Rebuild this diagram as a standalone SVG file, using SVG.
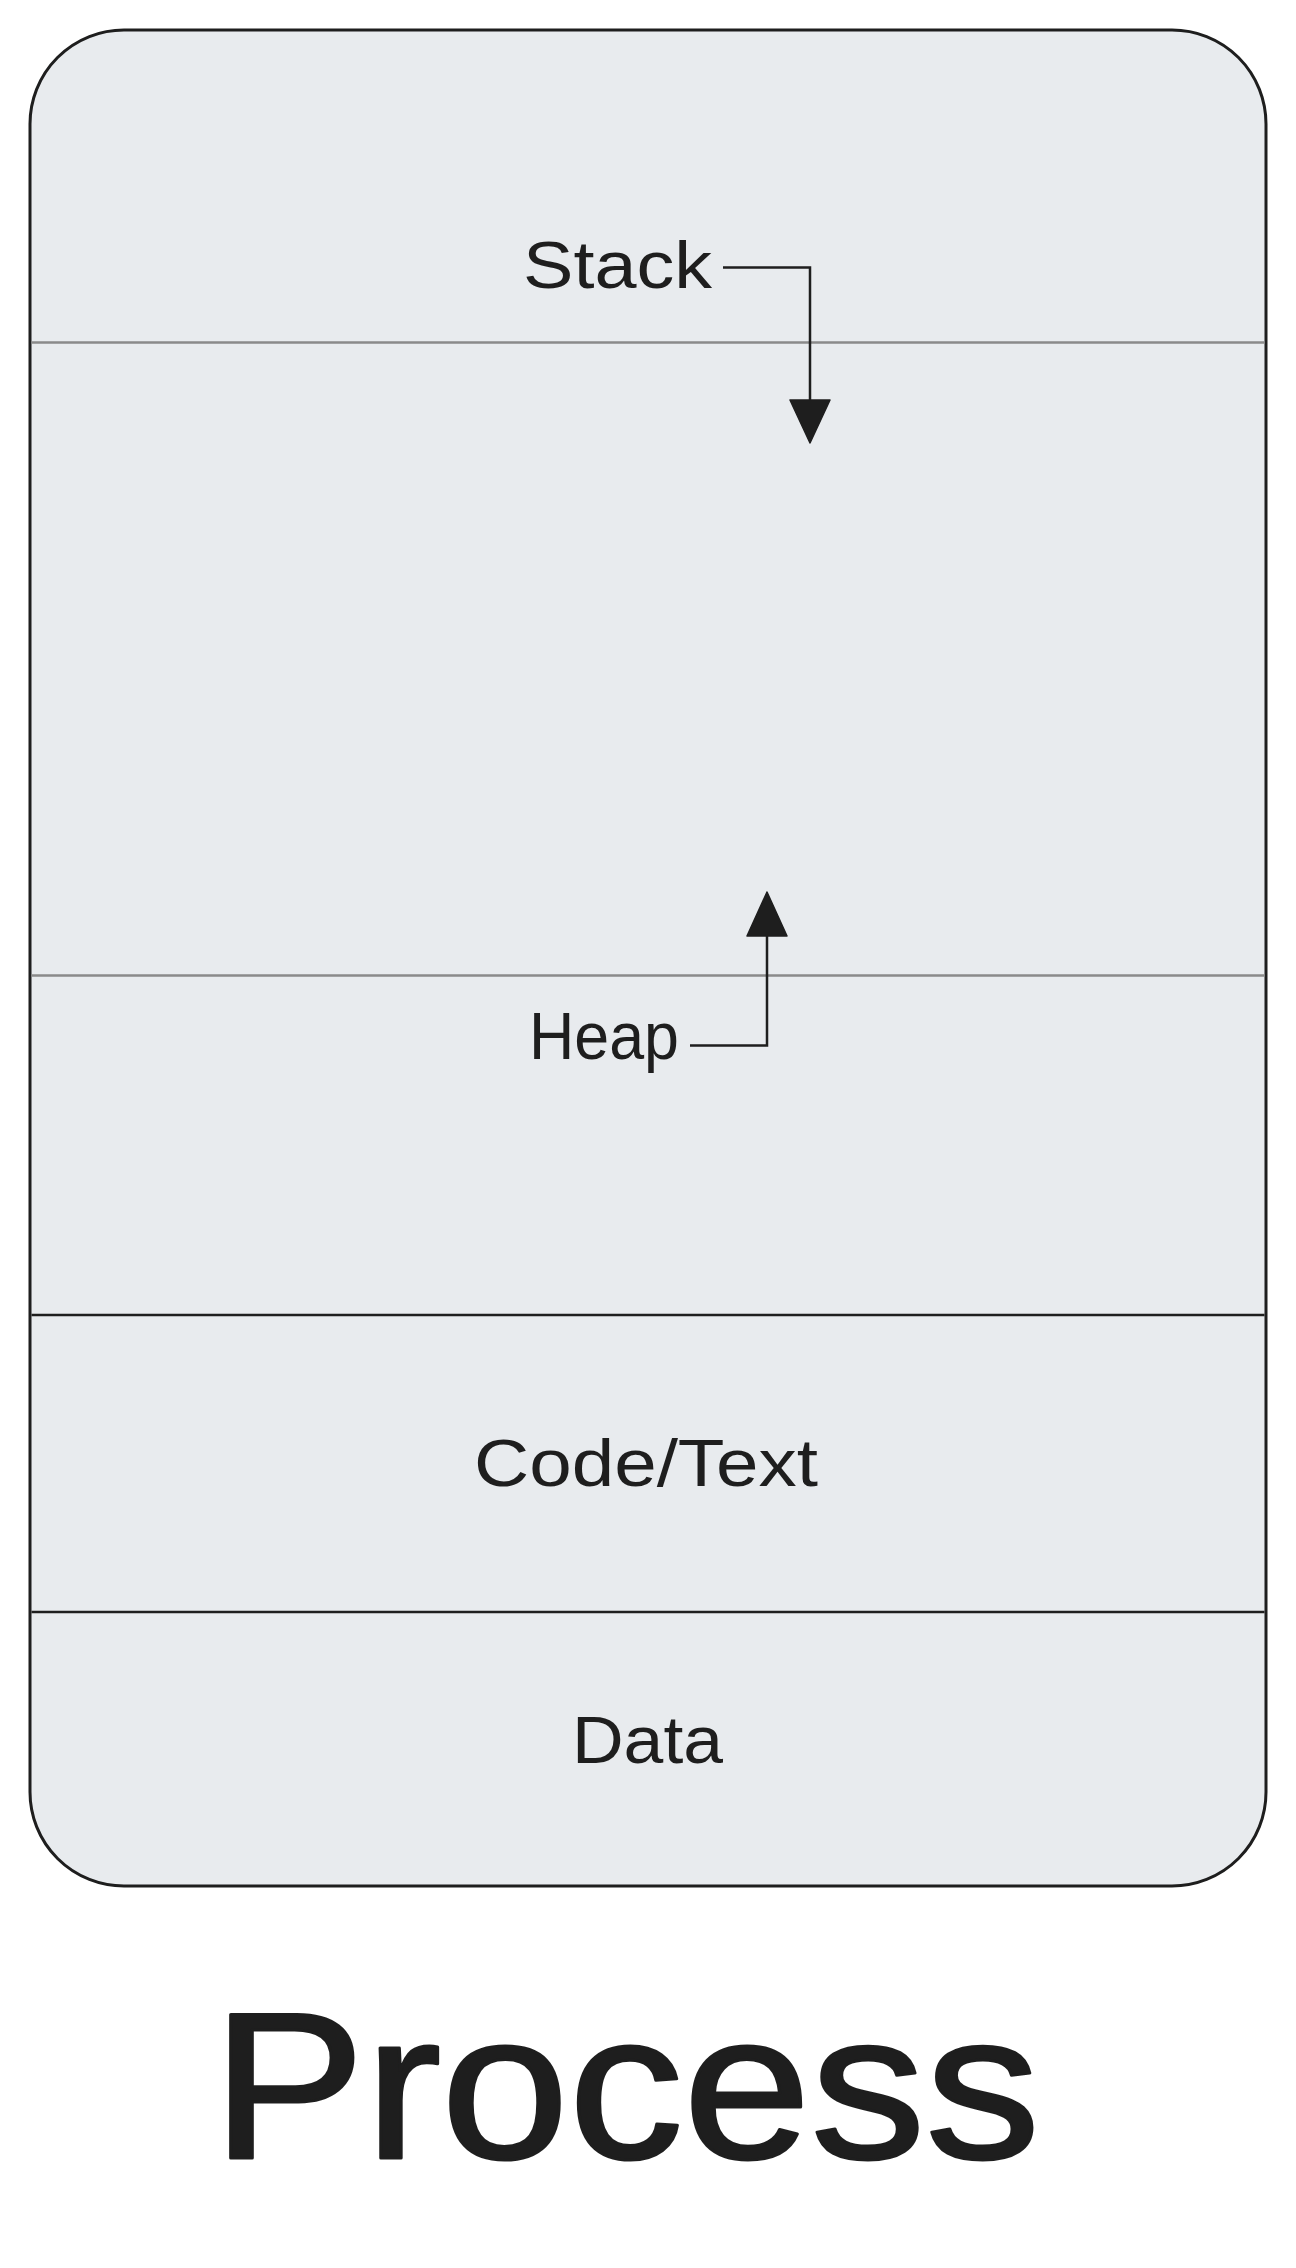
<svg xmlns="http://www.w3.org/2000/svg" width="1296" height="2268" viewBox="0 0 1296 2268">
  <style>
    .lbl { font-family: "Liberation Sans", Arial, sans-serif; font-size: 67px; fill: #1e1e1e; }
    .title { font-family: "Liberation Sans", Arial, sans-serif; font-size: 208px; fill: #1e1e1e; stroke: #1e1e1e; stroke-width: 3; stroke-linejoin: round; }
    .sep-gray { stroke: #8a8a8a; stroke-width: 2.5; fill: none; }
    .sep-dark { stroke: #1e1e1e; stroke-width: 2.5; fill: none; }
    .conn { stroke: #1e1e1e; stroke-width: 2.5; fill: none; }
    .head { fill: #1e1e1e; stroke: #1e1e1e; stroke-width: 1.5; stroke-linejoin: round; }
  </style>
  <rect width="1296" height="2268" fill="#ffffff"/>
  <g id="process">
    <rect x="30" y="30" width="1236" height="1856" rx="94" ry="94" fill="#e8ebee" stroke="#1e1e1e" stroke-width="3"/>
    <line class="sep-gray" x1="31.5" y1="342.5" x2="1264.5" y2="342.5"/>
    <line class="sep-gray" x1="31.5" y1="975.5" x2="1264.5" y2="975.5"/>
    <line class="sep-dark" x1="31.5" y1="1315" x2="1264.5" y2="1315"/>
    <line class="sep-dark" x1="31.5" y1="1612" x2="1264.5" y2="1612"/>
  </g>
  <g id="stack">
    <text class="lbl" x="523" y="288" textLength="189" lengthAdjust="spacingAndGlyphs">Stack</text>
  </g>
  <g id="heap">
    <text class="lbl" x="529" y="1059" textLength="150" lengthAdjust="spacingAndGlyphs">Heap</text>
  </g>
  <g id="code-text">
    <text class="lbl" x="474" y="1486" textLength="344" lengthAdjust="spacingAndGlyphs">Code/Text</text>
  </g>
  <g id="data">
    <text class="lbl" x="572" y="1763" textLength="151" lengthAdjust="spacingAndGlyphs">Data</text>
  </g>
  <g id="title">
    <text class="title" x="212" y="2158" textLength="828" lengthAdjust="spacingAndGlyphs">Process</text>
  </g>
  <g id="connectors">
    <path class="conn" d="M723,267.5 L810,267.5 L810,400" />
    <path class="head" d="M790,400 L830,400 L810,443 Z"/>
    <path class="conn" d="M690,1045.5 L767,1045.5 L767,936" />
    <path class="head" d="M747,936 L787,936 L767,892 Z"/>
  </g>
</svg>
